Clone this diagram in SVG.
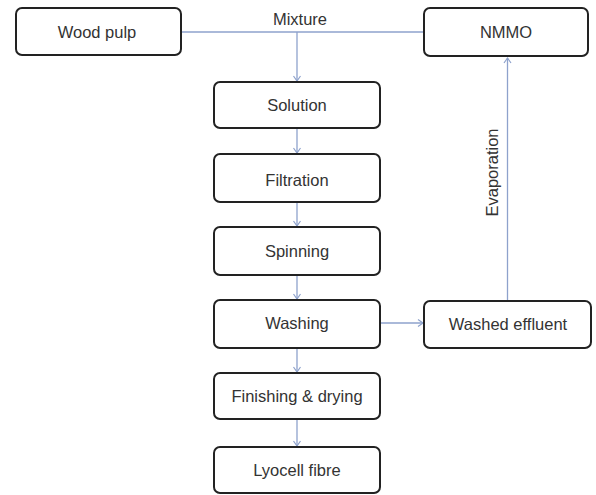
<svg xmlns="http://www.w3.org/2000/svg" width="596" height="495" viewBox="0 0 596 495">
<defs>
<marker id="arr" markerWidth="10" markerHeight="10" refX="8" refY="5" orient="auto" markerUnits="userSpaceOnUse">
<polyline points="3,1.5 8,5 3,8.5" fill="none" stroke="#8ea2cc" stroke-width="1.2"/>
</marker>
</defs>
<style>
.box{fill:#fff;stroke:#222;stroke-width:2}
.lbl{font-family:"Liberation Sans",Arial,sans-serif;font-size:16.5px;fill:#333;text-anchor:middle;dominant-baseline:central}
.ln{fill:none;stroke:#8ea2cc;stroke-width:1.3}
</style>
<rect width="596" height="495" fill="#fff"/>
<g id="connectors">
<line class="ln" x1="181" y1="32" x2="424" y2="32"/>
<line class="ln" x1="297" y1="32" x2="297" y2="81" marker-end="url(#arr)"/>
<line class="ln" x1="297" y1="129" x2="297" y2="153" marker-end="url(#arr)"/>
<line class="ln" x1="297" y1="203" x2="297" y2="226" marker-end="url(#arr)"/>
<line class="ln" x1="297" y1="276" x2="297" y2="299" marker-end="url(#arr)"/>
<line class="ln" x1="297" y1="349" x2="297" y2="372" marker-end="url(#arr)"/>
<line class="ln" x1="297" y1="420" x2="297" y2="446" marker-end="url(#arr)"/>
<line class="ln" x1="381" y1="323" x2="423" y2="323" marker-end="url(#arr)"/>
<line class="ln" x1="507.5" y1="300" x2="507.5" y2="58" marker-end="url(#arr)"/>
<text class="lbl" x="300" y="19">Mixture</text>
<text class="lbl" transform="translate(491.5,172.5) rotate(-90)">Evaporation</text>
</g>
<g id="wood-pulp"><rect class="box" x="16" y="8" width="165" height="47" rx="6"/><text class="lbl" x="97" y="32">Wood pulp</text></g>
<g id="nmmo"><rect class="box" x="424" y="8" width="164" height="48" rx="6"/><text class="lbl" x="506" y="32">NMMO</text></g>
<g id="solution"><rect class="box" x="214" y="82" width="166" height="46" rx="6"/><text class="lbl" x="297" y="105">Solution</text></g>
<g id="filtration"><rect class="box" x="214" y="154" width="166" height="48" rx="6"/><text class="lbl" x="297" y="180">Filtration</text></g>
<g id="spinning"><rect class="box" x="214" y="227" width="166" height="48" rx="6"/><text class="lbl" x="297" y="251">Spinning</text></g>
<g id="washing"><rect class="box" x="214" y="300" width="166" height="48" rx="6"/><text class="lbl" x="297" y="323">Washing</text></g>
<g id="washed-effluent"><rect class="box" x="424" y="301" width="167" height="47" rx="6"/><text class="lbl" x="508" y="324">Washed effluent</text></g>
<g id="finishing"><rect class="box" x="214" y="373" width="166" height="46" rx="6"/><text class="lbl" x="297" y="396">Finishing &amp; drying</text></g>
<g id="lyocell"><rect class="box" x="214" y="447" width="166" height="46" rx="6"/><text class="lbl" x="297" y="470">Lyocell fibre</text></g>
</svg>
